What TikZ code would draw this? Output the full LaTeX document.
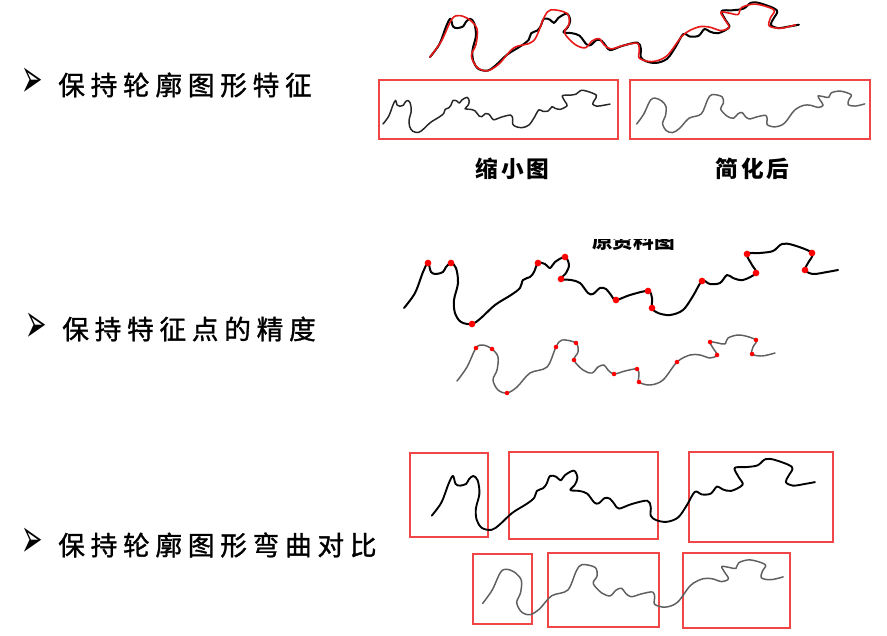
\documentclass[tikz,border=0pt]{standalone}
\usepackage{fontspec}
\newfontfamily\cjk{Noto Sans CJK SC}
\newfontfamily\cjkmed[FakeBold=1.2]{Noto Sans CJK SC}
\newfontfamily\dejavu{DejaVu Sans}
\definecolor{boxred}{RGB}{240,70,70}
\definecolor{curvegray}{RGB}{95,95,95}
\definecolor{overred}{RGB}{232,25,25}
\definecolor{dotred}{RGB}{255,0,0}
\newcommand\cjkgap{\kern4.3pt}
\newcommand\cjkgapb{\kern2.2pt}
\newcommand\bulletarrow{\scalebox{0.64}[1.38]{➢}}
\tikzset{
  curveline/.style={line join=round, line cap=round},
  redbox/.style={draw=boxred, line width=1.1pt},
  bullettext/.style={anchor=west, inner sep=0pt, font=\cjkmed\fontsize{20}{24}\selectfont},
  bulletmark/.style={anchor=west, inner sep=0pt, font=\dejavu\fontsize{30}{32}\selectfont},
  captiontext/.style={inner sep=0pt, font=\cjk\bfseries\fontsize{17}{20}\selectfont},
  blackcurve/.pic={
    \draw[curveline] plot[smooth, tension=0.55] coordinates {(404,308) (415,293) (423,272) (428,263) (431,272) (436,274) (443,272) (446,267) (451,263) (456,268) (458,283) (454,300) (455,313) (461,322) (472,324) (481,318) (495,305) (511,295) (520,288) (523,280) (530,277) (534,272) (538,263) (545,264) (550,268) (555,262) (565,257) (569,265) (566,273) (561,279) (571,280) (580,283) (588,293) (593,294) (600,288) (606,289) (611,295) (616,300) (630,295) (648,291) (652,298) (652,308) (658,313) (670,315) (683,310) (693,296) (702,281) (710,284) (720,283) (727,275) (733,278) (743,280) (756,273) (752,265) (747,254) (760,253) (773,251) (782,244) (793,245) (812,253) (808,263) (805,270) (813,274) (827,272) (838,270)};
  },
  graycurve/.pic={
    \draw[curveline] plot[smooth, tension=0.55] coordinates {(457,381) (467,367) (476,348) (483,345) (492,349) (498,357) (497,370) (493,380) (498,390) (507,393) (517,387) (530,373) (547,367) (556,347) (562,340) (576,343) (578,352) (574,360) (583,370) (592,373) (598,367) (604,365) (608,370) (614,374) (625,371) (637,369) (639,375) (639,382) (650,385) (663,380) (677,362) (690,355) (700,355) (710,358) (717,355) (713,348) (710,342) (718,343) (725,344) (728,338) (740,335) (756,340) (753,347) (752,354) (762,356) (775,353)};
  }
}
\begin{document}
\begin{tikzpicture}[x=0.75pt,y=-0.75pt]
\useasboundingbox[fill=white] (0,0) rectangle (887,635);

% ---------- left bullet labels ----------
\node[bulletmark] (m1) at (21,82.5) {\bulletarrow};
\node[bullettext] (t1) at (58,85) {保\cjkgap 持\cjkgap 轮\cjkgap 廓\cjkgap 图\cjkgap 形\cjkgap 特\cjkgap 征};
\node[bulletmark] (m2) at (25,327.5) {\bulletarrow};
\node[bullettext] (t2) at (62,329) {保\cjkgap 持\cjkgap 特\cjkgap 征\cjkgap 点\cjkgap 的\cjkgap 精\cjkgap 度};
\node[bulletmark] (m3) at (21,543) {\bulletarrow};
\node[bullettext] (t3) at (58,545) {保\cjkgap 持\cjkgap 轮\cjkgap 廓\cjkgap 图\cjkgap 形\cjkgap 弯\cjkgap 曲\cjkgap 对\cjkgap 比};

% ---------- section 1 ----------
\pic[shift={(86.6,-204.8)}, scale=0.85, color=black, line width=1.5pt] {blackcurve};
\pic[shift={(-95.55,-381.15)}, scale=1.15, color=overred, line width=1.2pt] {graycurve};

\draw[redbox] (379,80) rectangle (618,139);
\draw[redbox] (630,80) rectangle (870,139);
\pic[shift={(171.7,-37.1)}, scale=0.523, color=black!85, line width=1.1pt] {blackcurve};
\pic[shift={(309,-149.2)}, scale=0.717, color=curvegray, line width=1.1pt] {graycurve};
\node[captiontext] (c1) at (512.5,169) {缩\cjkgapb 小\cjkgapb 图};
\node[captiontext] (c2) at (752.5,169) {简\cjkgapb 化\cjkgapb 后};

% ---------- section 2 ----------
\begin{scope}
  \clip (560,239) rectangle (700,256);
  \node[inner sep=0pt, font=\cjk\bfseries\fontsize{15.5}{18}\selectfont] (c3) at (633.5,240.5) {原资料图};
\end{scope}
\pic[color=black, line width=1.5pt] {blackcurve};
\foreach \p in {(428,263),(451,263),(472,324),(538,263),(565,257),(561,279),(616,300),(648,291),(652,308),(702,281),(756,273),(747,254),(812,253),(805,270)}
  \fill[dotred] \p circle[radius=2.5pt];
\pic[color=curvegray, line width=1.1pt] {graycurve};
\foreach \p in {(476,348),(492,349),(507,393),(556,347),(576,343),(574,360),(614,374),(637,369),(639,382),(677,362),(717,355),(710,342),(756,340),(752,354)}
  \fill[dotred] \p circle[radius=1.7pt];

% ---------- section 3 ----------
\draw[redbox] (410,453) rectangle (488,537);
\draw[redbox] (509,452) rectangle (658,539);
\draw[redbox] (689,452) rectangle (833,542);
\pic[shift={(75,243.7)}, scale=0.883, color=black, line width=1.4pt] {blackcurve};

\draw[redbox] (473,554) rectangle (532,624);
\draw[redbox] (548,553) rectangle (659,627);
\draw[redbox] (683,553) rectangle (790,628);
\pic[shift={(50.8,243.3)}, scale=0.945, color=curvegray, line width=1.1pt] {graycurve};
\end{tikzpicture}
\end{document}
